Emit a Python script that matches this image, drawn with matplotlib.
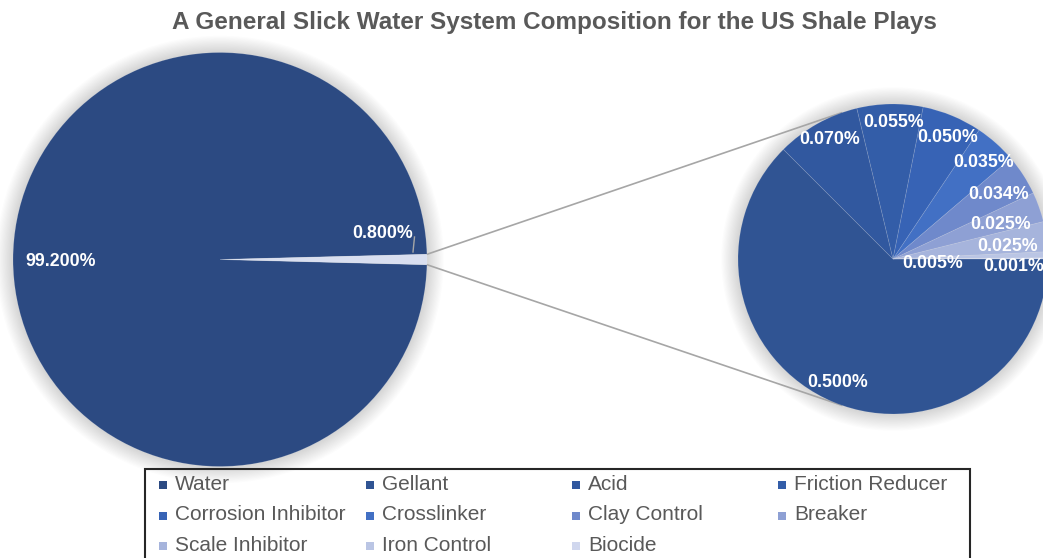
import matplotlib
matplotlib.use("Agg")
import matplotlib.pyplot as plt
from matplotlib.patches import Circle, Rectangle
import numpy as np

plt.rcParams['font.family'] = ['Liberation Sans', 'DejaVu Sans']

# ---- data -------------------------------------------------------------
categories = ["Water", "Gellant", "Acid", "Friction Reducer",
              "Corrosion Inhibitor", "Crosslinker", "Clay Control", "Breaker",
              "Scale Inhibitor", "Iron Control", "Biocide"]
shares = [99.2, 0.5, 0.07, 0.055, 0.05, 0.035, 0.034, 0.025, 0.025, 0.005, 0.001]
title = "A General Slick Water System Composition for the US Shale Plays"

# ---- styling ----------------------------------------------------------
colors = ["#2C4A82", "#305493", "#31589F", "#335DA8", "#3763B5", "#4270C4",
          "#6F89CB", "#8EA0D4", "#A6B4DC", "#BAC5E4", "#D0D7EE"]
other_color = "#D9DFF0"
text_gray = "#595959"

W, H = 1043, 558
fig = plt.figure(figsize=(W / 100, H / 100), dpi=100)
ax = fig.add_axes([0, 0, 1, 1])


def Y(y):
    """Convert a top-down pixel row into the axes' bottom-up coordinate."""
    return H - y


left_center = (220.0, Y(259.5))
left_radius = 207.0
right_center = (893.0, Y(259.0))
right_radius = 155.0

# soft halo behind both pies
for (cx, cy), r in [(left_center, left_radius), (right_center, right_radius)]:
    for k in range(14):
        ax.add_patch(Circle((cx, cy), r + 1.2 * (k + 1), color="black",
                            alpha=0.010, lw=0, zorder=0))

# ---- primary pie: water vs. everything else ---------------------------
rest = sum(shares[1:])
main_vals = [shares[0], rest]
half_rest_angle = rest / sum(main_vals) * 180.0
main_wedges, _ = ax.pie(main_vals, colors=[colors[0], other_color],
                        startangle=half_rest_angle, counterclock=True,
                        center=left_center, radius=left_radius,
                        wedgeprops=dict(edgecolor=(1, 1, 1, 0.2), linewidth=0.5))
for w in main_wedges:
    w.set_zorder(2)

# ---- secondary pie: breakdown of the additives ------------------------
sub_wedges, _ = ax.pie(shares[1:], colors=colors[1:], startangle=0,
                       counterclock=False, center=right_center,
                       radius=right_radius,
                       wedgeprops=dict(edgecolor=(1, 1, 1, 0.12), linewidth=0.6))
for w in sub_wedges:
    w.set_zorder(2)

label_kw = dict(color="white", fontsize=12.8, fontweight="bold",
                ha="center", va="center", zorder=5)

# main pie labels
water_mid = np.deg2rad((main_wedges[0].theta1 + main_wedges[0].theta2) / 2)
ax.text(left_center[0] + 0.77 * left_radius * np.cos(water_mid),
        left_center[1] + 0.77 * left_radius * np.sin(water_mid) - 2,
        f"{shares[0]:.3f}%", **label_kw)
ax.text(383, Y(233), f"{rest:.3f}%", **label_kw)
ax.plot([414.5, 413], [Y(237), Y(252)], color="#A6A6A6", lw=1, zorder=4)

# secondary pie labels, placed along each wedge's bisector
label_radius = [0.875, 0.87, 0.88, 0.86, 0.85, 0.80, 0.73, 0.74, 0.26, 0.78]
label_nudge = [-1.4, -1.4, -1.5, -1.5, -1.6, -1.4, -1.6, -2.3, -8.6, -4.0]
for w, v, f, d in zip(sub_wedges, shares[1:], label_radius, label_nudge):
    a = np.deg2rad((w.theta1 + w.theta2) / 2 + d)
    ax.text(right_center[0] + f * right_radius * np.cos(a),
            right_center[1] + f * right_radius * np.sin(a),
            f"{v:.3f}%", **label_kw)

# ---- connector lines: slice edges to tangent points of the second pie -
def tangent_points(p, c, r):
    px_, py_ = p
    cx, cy = c
    dx, dy = px_ - cx, py_ - cy
    d = np.hypot(dx, dy)
    base = np.arctan2(dy, dx)
    off = np.arccos(r / d)
    return [(cx + r * np.cos(base + s * off), cy + r * np.sin(base + s * off))
            for s in (-1, 1)]


edge_angles = [np.deg2rad(main_wedges[1].theta2), np.deg2rad(main_wedges[1].theta1)]
mid_point = (left_center[0] + left_radius, left_center[1])
tps = tangent_points(mid_point, right_center, right_radius)
tps.sort(key=lambda t: -t[1])
for ang, tp in zip(edge_angles, tps):
    sx = left_center[0] + left_radius * np.cos(ang)
    sy = left_center[1] + left_radius * np.sin(ang)
    ax.plot([sx, tp[0]], [sy, tp[1]], color="#A6A6A6", lw=1.2, zorder=1)

# ---- title ------------------------------------------------------------
ax.text(554, Y(22), title, color=text_gray, fontsize=17.5, fontweight="bold",
        ha="center", va="center")

# ---- legend -----------------------------------------------------------
ax.add_patch(Rectangle((145, Y(575)), 825, 575 - 469, fill=False,
                       edgecolor="#262626", lw=1.5, zorder=6))
col_x = [159, 366, 572, 778]
row_y = [485, 515.5, 546]
for i, (name, c) in enumerate(zip(categories, colors)):
    x0 = col_x[i % 4]
    y0 = row_y[i // 4]
    ax.add_patch(Rectangle((x0, Y(y0) - 4), 8, 8, facecolor=c,
                           edgecolor="none", zorder=7))
    ax.text(x0 + 16, Y(y0) + 0.5, name, color=text_gray, fontsize=15,
            ha="left", va="center", zorder=7)

ax.set_xlim(0, W)
ax.set_ylim(0, H)
ax.set_aspect("equal")
ax.axis("off")

fig.savefig("out.png", dpi=100)
